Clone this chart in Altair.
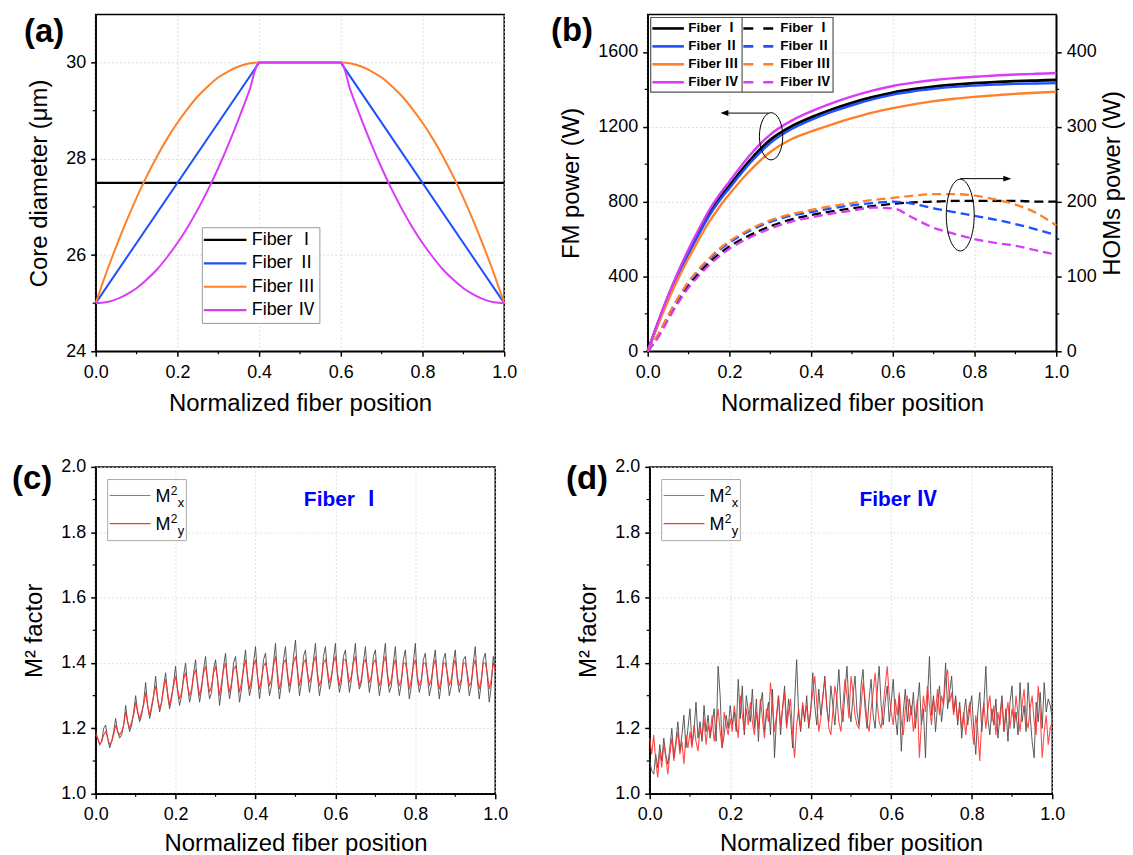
import altair as alt
import pandas as pd

FONT = "Liberation Sans, Noto Sans CJK SC, sans-serif"
BLACK, BLUE, ORANGE, MAGENTA = "#000000", "#1e50ff", "#ff8028", "#d93cf7"
FIBER_LABELS = ["Fiber Ⅰ", "Fiber Ⅱ", "Fiber Ⅲ", "Fiber Ⅳ"]
FIBER_COLORS = [BLACK, BLUE, ORANGE, MAGENTA]

X_TICKS = [0.0, 0.2, 0.4, 0.6, 0.8, 1.0]
X_MINOR = [0.1, 0.3, 0.5, 0.7, 0.9]

# ---------------- (a) core diameter profiles
A1_X = [0.0, 1.0]
A1_Y = [27.5, 27.5]
A2_X = [0.0, 0.4, 0.6, 1.0]
A2_Y = [25.0, 30.0, 30.0, 25.0]
A34_X = [0.0, 0.025, 0.05, 0.075, 0.1, 0.125, 0.15, 0.175, 0.2, 0.225, 0.25, 0.275,
         0.3, 0.325, 0.35, 0.375, 0.4, 0.6, 0.625, 0.65, 0.675, 0.7, 0.725, 0.75,
         0.775, 0.8, 0.825, 0.85, 0.875, 0.9, 0.925, 0.95, 0.975, 1.0]
A3_Y = [25.0, 25.61, 26.17, 26.70, 27.19, 27.64, 28.05, 28.42, 28.75, 29.04, 29.30, 29.51,
        29.69, 29.82, 29.92, 29.98, 30.0, 30.0, 29.98, 29.92, 29.82, 29.69, 29.51, 29.30,
        29.04, 28.75, 28.42, 28.05, 27.64, 27.19, 26.70, 26.17, 25.61, 25.0]
A4_Y = [25.0, 25.02, 25.08, 25.18, 25.31, 25.49, 25.70, 25.96, 26.25, 26.58, 26.95, 27.36,
        27.81, 28.30, 28.83, 29.39, 30.0, 30.0, 29.39, 28.83, 28.30, 27.81, 27.36, 26.95,
        26.58, 26.25, 25.96, 25.70, 25.49, 25.31, 25.18, 25.08, 25.02, 25.0]
A_YTICKS = [24, 26, 28, 30]
A_YMINOR = [25, 27, 29]

# ---------------- (b) FM and HOM power
B_X = [0.0, 0.025, 0.05, 0.075, 0.1, 0.125, 0.15, 0.175, 0.2, 0.25, 0.3, 0.35, 0.4,
       0.45, 0.5, 0.55, 0.6, 0.65, 0.7, 0.75, 0.8, 0.85, 0.9, 0.95, 1.0]
FM1 = [0, 150, 290, 415, 530, 635, 735, 815, 885, 1020, 1130, 1200, 1250,
       1292, 1328, 1358, 1383, 1401, 1415, 1425, 1433, 1439, 1444, 1447, 1450]
FM2 = [0, 148, 287, 410, 522, 625, 723, 803, 872, 1005, 1113, 1185, 1237,
       1280, 1315, 1346, 1372, 1390, 1403, 1413, 1420, 1425, 1429, 1431, 1433]
FM3 = [0, 140, 272, 390, 497, 597, 690, 770, 840, 965, 1065, 1132, 1175,
       1212, 1246, 1276, 1300, 1320, 1337, 1350, 1360, 1368, 1376, 1382, 1387]
FM4 = [0, 155, 298, 428, 545, 652, 752, 835, 908, 1048, 1158, 1230, 1282,
       1325, 1362, 1393, 1418, 1436, 1450, 1460, 1467, 1474, 1479, 1483, 1487]
HOM1 = [0, 20, 45, 68, 88, 104, 118, 130, 140, 155, 167, 176, 182,
        187, 191, 194, 197, 199, 200, 201, 201, 201, 201, 200, 200]
HOM2 = [0, 21, 47, 71, 92, 108, 122, 135, 145, 161, 173, 181, 186,
        191, 195, 198, 200, 197, 191, 186, 181, 176, 170, 163, 155]
HOM3 = [0, 22, 48, 72, 93, 110, 124, 137, 147, 163, 175, 183, 189,
        194, 198, 202, 205, 208, 210, 210, 208, 203, 196, 185, 168]
HOM4 = [0, 18, 42, 65, 85, 101, 115, 127, 137, 152, 164, 173, 179,
        184, 188, 192, 191, 178, 165, 157, 150, 145, 141, 135, 129]
B_LTICKS = [0, 400, 800, 1200, 1600]
B_LMINOR = [200, 600, 1000, 1400]
B_RTICKS = [0, 100, 200, 300, 400]
B_RMINOR = [50, 150, 250, 350]

# ---------------- (c), (d) M2 factors
M_X = [round(i * 0.005, 3) for i in range(201)]
C_MX = [
    1.19, 1.17, 1.15, 1.16, 1.20, 1.21, 1.17, 1.14, 1.16, 1.19,
    1.23, 1.19, 1.17, 1.18, 1.21, 1.27, 1.22, 1.19, 1.21, 1.25,
    1.30, 1.25, 1.22, 1.24, 1.28, 1.34, 1.27, 1.23, 1.26, 1.30,
    1.36, 1.29, 1.25, 1.28, 1.33, 1.37, 1.30, 1.26, 1.29, 1.34,
    1.39, 1.31, 1.27, 1.30, 1.36, 1.40, 1.33, 1.28, 1.31, 1.37,
    1.41, 1.33, 1.28, 1.32, 1.38, 1.42, 1.34, 1.29, 1.31, 1.38,
    1.41, 1.35, 1.27, 1.32, 1.39, 1.43, 1.34, 1.29, 1.33, 1.40,
    1.42, 1.35, 1.28, 1.32, 1.39, 1.44, 1.35, 1.30, 1.33, 1.40,
    1.45, 1.36, 1.29, 1.34, 1.41, 1.43, 1.36, 1.30, 1.33, 1.40,
    1.46, 1.35, 1.29, 1.34, 1.41, 1.45, 1.36, 1.31, 1.35, 1.42,
    1.47, 1.37, 1.30, 1.34, 1.42, 1.44, 1.37, 1.31, 1.35, 1.41,
    1.46, 1.36, 1.30, 1.34, 1.42, 1.45, 1.37, 1.32, 1.35, 1.41,
    1.46, 1.36, 1.31, 1.34, 1.42, 1.44, 1.37, 1.31, 1.35, 1.41,
    1.46, 1.36, 1.32, 1.34, 1.40, 1.45, 1.37, 1.31, 1.35, 1.42,
    1.44, 1.36, 1.30, 1.34, 1.41, 1.46, 1.36, 1.31, 1.33, 1.40,
    1.45, 1.35, 1.30, 1.34, 1.41, 1.44, 1.36, 1.29, 1.33, 1.40,
    1.46, 1.35, 1.31, 1.34, 1.41, 1.43, 1.36, 1.30, 1.33, 1.40,
    1.44, 1.35, 1.29, 1.34, 1.41, 1.43, 1.36, 1.30, 1.33, 1.40,
    1.44, 1.35, 1.31, 1.34, 1.41, 1.42, 1.36, 1.30, 1.33, 1.40,
    1.45, 1.35, 1.29, 1.34, 1.41, 1.43, 1.36, 1.28, 1.33, 1.42,
    1.38]
C_MY = [
    1.18, 1.17, 1.15, 1.16, 1.18, 1.19, 1.17, 1.15, 1.16, 1.18,
    1.21, 1.19, 1.18, 1.19, 1.21, 1.25, 1.22, 1.20, 1.22, 1.24,
    1.28, 1.25, 1.23, 1.25, 1.27, 1.31, 1.27, 1.24, 1.27, 1.30,
    1.33, 1.29, 1.26, 1.28, 1.32, 1.35, 1.31, 1.27, 1.30, 1.33,
    1.36, 1.32, 1.29, 1.31, 1.35, 1.37, 1.33, 1.30, 1.32, 1.36,
    1.38, 1.34, 1.30, 1.33, 1.37, 1.39, 1.35, 1.31, 1.33, 1.37,
    1.39, 1.35, 1.30, 1.34, 1.38, 1.40, 1.35, 1.31, 1.34, 1.38,
    1.39, 1.36, 1.31, 1.34, 1.38, 1.41, 1.36, 1.32, 1.35, 1.39,
    1.41, 1.36, 1.32, 1.35, 1.39, 1.40, 1.37, 1.33, 1.35, 1.39,
    1.42, 1.37, 1.32, 1.35, 1.40, 1.41, 1.37, 1.33, 1.36, 1.40,
    1.42, 1.38, 1.33, 1.36, 1.40, 1.41, 1.37, 1.34, 1.36, 1.40,
    1.42, 1.37, 1.33, 1.35, 1.40, 1.41, 1.38, 1.34, 1.36, 1.40,
    1.42, 1.37, 1.33, 1.36, 1.41, 1.41, 1.38, 1.34, 1.36, 1.40,
    1.42, 1.37, 1.33, 1.35, 1.40, 1.41, 1.38, 1.34, 1.36, 1.40,
    1.41, 1.37, 1.33, 1.35, 1.40, 1.42, 1.37, 1.33, 1.35, 1.39,
    1.41, 1.36, 1.33, 1.35, 1.40, 1.40, 1.37, 1.32, 1.35, 1.39,
    1.41, 1.36, 1.33, 1.35, 1.40, 1.40, 1.37, 1.33, 1.35, 1.39,
    1.41, 1.36, 1.32, 1.35, 1.40, 1.40, 1.37, 1.33, 1.35, 1.39,
    1.41, 1.36, 1.33, 1.35, 1.40, 1.40, 1.37, 1.33, 1.34, 1.39,
    1.41, 1.36, 1.32, 1.35, 1.40, 1.40, 1.37, 1.32, 1.35, 1.40,
    1.38]
D_MX = [
    1.10, 1.07, 1.06, 1.12, 1.08, 1.15, 1.10, 1.17, 1.12, 1.09,
    1.14, 1.20, 1.11, 1.16, 1.22, 1.13, 1.18, 1.24, 1.14, 1.20,
    1.26, 1.15, 1.19, 1.28, 1.17, 1.22, 1.16, 1.27, 1.19, 1.24,
    1.17, 1.21, 1.26, 1.16, 1.39, 1.30, 1.14, 1.18, 1.24, 1.20,
    1.27, 1.21, 1.25, 1.19, 1.35, 1.23, 1.33, 1.18, 1.30, 1.25,
    1.22, 1.32, 1.20, 1.29, 1.16, 1.27, 1.31, 1.19, 1.24, 1.28,
    1.18, 1.32, 1.11, 1.23, 1.30, 1.18, 1.26, 1.33, 1.21, 1.29,
    1.23, 1.14, 1.28, 1.41, 1.24, 1.19, 1.27, 1.22, 1.30, 1.20,
    1.25, 1.37, 1.27, 1.21, 1.32, 1.24, 1.29, 1.36, 1.26, 1.22,
    1.33, 1.27, 1.21, 1.30, 1.38, 1.26, 1.22, 1.31, 1.39, 1.27,
    1.22, 1.30, 1.36, 1.25, 1.21, 1.33, 1.38, 1.26, 1.20, 1.29,
    1.35, 1.24, 1.20, 1.31, 1.39, 1.27, 1.21, 1.28, 1.33, 1.22,
    1.28, 1.35, 1.24, 1.18, 1.30, 1.13, 1.25, 1.32, 1.22, 1.29,
    1.24, 1.31, 1.20, 1.27, 1.34, 1.21, 1.26, 1.11, 1.29, 1.42,
    1.24, 1.30, 1.19, 1.27, 1.33, 1.22, 1.28, 1.40, 1.26, 1.31,
    1.36, 1.25, 1.30, 1.21, 1.28, 1.17, 1.24, 1.29, 1.21, 1.26,
    1.30, 1.20, 1.12, 1.25, 1.31, 1.19, 1.27, 1.39, 1.23, 1.18,
    1.26, 1.21, 1.29, 1.17, 1.24, 1.30, 1.19, 1.26, 1.16, 1.28,
    1.33, 1.20, 1.25, 1.18, 1.34, 1.22, 1.27, 1.19, 1.34, 1.24,
    1.16, 1.11, 1.28, 1.22, 1.31, 1.20, 1.34, 1.25, 1.29, 1.27,
    1.23]
D_MY = [
    1.17, 1.12, 1.18, 1.10, 1.05, 1.13, 1.08, 1.15, 1.11, 1.06,
    1.12, 1.17, 1.10, 1.15, 1.19, 1.12, 1.16, 1.09, 1.18, 1.14,
    1.19, 1.14, 1.21, 1.16, 1.13, 1.20, 1.17, 1.23, 1.15, 1.21,
    1.18, 1.24, 1.16, 1.21, 1.26, 1.19, 1.14, 1.25, 1.21, 1.18,
    1.23, 1.19, 1.27, 1.22, 1.17, 1.30, 1.24, 1.19, 1.26, 1.21,
    1.28, 1.22, 1.18, 1.25, 1.20, 1.29, 1.23, 1.17, 1.26, 1.22,
    1.34, 1.27, 1.19, 1.24, 1.30, 1.21, 1.26, 1.31, 1.20, 1.25,
    1.29, 1.18, 1.11, 1.21, 1.26, 1.20, 1.28, 1.23, 1.27, 1.21,
    1.26, 1.31, 1.36, 1.28, 1.19, 1.23, 1.30, 1.35, 1.27, 1.20,
    1.18, 1.25, 1.33, 1.29, 1.22, 1.19, 1.27, 1.35, 1.30, 1.23,
    1.36, 1.31, 1.24, 1.21, 1.20, 1.27, 1.34, 1.29, 1.22, 1.19,
    1.26, 1.31, 1.37, 1.28, 1.22, 1.20, 1.27, 1.33, 1.39, 1.30,
    1.25, 1.21, 1.29, 1.24, 1.31, 1.22, 1.18, 1.26, 1.30, 1.22,
    1.27, 1.19, 1.24, 1.29, 1.11, 1.22, 1.30, 1.25, 1.33, 1.27,
    1.21, 1.29, 1.25, 1.32, 1.24, 1.30, 1.27, 1.35, 1.38, 1.28,
    1.31, 1.24, 1.29, 1.22, 1.27, 1.20, 1.25, 1.18, 1.24, 1.28,
    1.21, 1.15, 1.24, 1.19, 1.10, 1.23, 1.28, 1.20, 1.26, 1.30,
    1.22, 1.27, 1.18, 1.25, 1.21, 1.29, 1.19, 1.24, 1.28, 1.20,
    1.26, 1.22, 1.30, 1.24, 1.19, 1.27, 1.32, 1.23, 1.20, 1.26,
    1.30, 1.22, 1.18, 1.33, 1.25, 1.11, 1.19, 1.24, 1.15, 1.20,
    1.22]
M_YTICKS = [1.0, 1.2, 1.4, 1.6, 1.8, 2.0]
M_YMINOR = [1.1, 1.3, 1.5, 1.7, 1.9]

# ---------------- helpers
ONE = pd.DataFrame({"k": [0]})
XS = alt.Scale(domain=[0, 1], nice=False, zero=False)


def xaxis(title_y=40):
    return alt.Axis(values=X_TICKS, format=".1f", title="Normalized fiber position",
                    labelPadding=7, titleY=title_y, titleBaseline="top", grid=True)


def vtext(x, y, text, size, weight="normal", color="black", align="left", baseline="middle"):
    return alt.Chart(ONE).mark_text(text=text, font=FONT, fontSize=size, fontWeight=weight,
                                    color=color, align=align, baseline=baseline).encode(
        x=alt.value(x), y=alt.value(y))


def vrule(x1, y1, x2, y2, color="black", width=1.0, dash=None, opacity=1.0):
    kw = dict(color=color, strokeWidth=width, opacity=opacity)
    if dash:
        kw["strokeDash"] = dash
    return alt.Chart(ONE).mark_rule(**kw).encode(
        x=alt.value(x1), x2=alt.value(x2), y=alt.value(y1), y2=alt.value(y2))


def vbox(x1, y1, x2, y2, stroke, width=1.0):
    return alt.Chart(ONE).mark_rect(fill="white", stroke=stroke, strokeWidth=width).encode(
        x=alt.value(x1), x2=alt.value(x2), y=alt.value(y1), y2=alt.value(y2))


def anchors(left, right, top, bottom):
    out = [vrule(left, top, right, top, opacity=0)]
    if bottom is not None:
        out.append(vrule(left, top, left, bottom, opacity=0))
    return out


def xminor(h, xax):
    return alt.Chart(pd.DataFrame({"x": X_MINOR})).mark_rule(color="black", strokeWidth=1.2).encode(
        x=alt.X("x:Q", scale=XS, axis=xax), y=alt.value(h), y2=alt.value(h + 3))


def yminor(vals, ys, yax, xax, x0, x1):
    return alt.Chart(pd.DataFrame({"y": vals})).mark_rule(color="black", strokeWidth=1.2).encode(
        y=alt.Y("y:Q", scale=ys, axis=yax), x=alt.value(x0), x2=alt.value(x1))


def line(xs, ys, yscale, yaxis, xax, color, width, dash=None, interp="linear", opacity=1.0):
    kw = dict(color=color, strokeWidth=width, interpolate=interp, opacity=opacity)
    if dash:
        kw["strokeDash"] = dash
    return alt.Chart(pd.DataFrame({"x": xs, "y": ys})).mark_line(**kw).encode(
        x=alt.X("x:Q", scale=XS, axis=xax),
        y=alt.Y("y:Q", scale=yscale, axis=yaxis))


def point(x, y, yscale, yaxis, xax, **kw):
    return alt.Chart(pd.DataFrame({"x": [x], "y": [y]})).mark_point(**kw).encode(
        x=alt.X("x:Q", scale=XS, axis=xax), y=alt.Y("y:Q", scale=yscale, axis=yaxis))


def hrule(x1, x2, y, yscale, yaxis, xax):
    return alt.Chart(pd.DataFrame({"x": [x1], "x2": [x2], "y": [y]})).mark_rule(
        color="black", strokeWidth=1).encode(
        x=alt.X("x:Q", scale=XS, axis=xax), x2="x2:Q",
        y=alt.Y("y:Q", scale=yscale, axis=yaxis))


# ---------------- panel (a)
W_A, H_A = 410, 338
XAX_TOP = xaxis(40)
YS_A = alt.Scale(domain=[24, 31], nice=False, zero=False)
YAX_A = alt.Axis(values=A_YTICKS, format="d", title="Core diameter (μm)", titleX=-56,
                 titleBaseline="middle", grid=True)
a_layers = [
    line(A1_X, A1_Y, YS_A, YAX_A, XAX_TOP, BLACK, 2.2),
    line(A2_X, A2_Y, YS_A, YAX_A, XAX_TOP, BLUE, 2.0),
    line(A34_X, A3_Y, YS_A, YAX_A, XAX_TOP, ORANGE, 2.0, interp="monotone"),
    line(A34_X, A4_Y, YS_A, YAX_A, XAX_TOP, MAGENTA, 2.0, interp="monotone"),
    xminor(H_A, XAX_TOP),
    yminor(A_YMINOR, YS_A, YAX_A, XAX_TOP, -3, 0),
    vbox(107, 214, 225, 310, "#9a9a9a"),
]
for i, (lab, col) in enumerate(zip(FIBER_LABELS, FIBER_COLORS)):
    yy = 226.2 + 23.5 * i
    a_layers.append(vrule(108.5, yy, 151.3, yy, color=col, width=2.2))
    a_layers.append(vtext(156.6, yy, lab, 18))
a_layers.append(vtext(-72, 18, "(a)", 33, weight="bold"))
a_layers += anchors(-87, W_A + 20, -4, H_A + 70)
panel_a = alt.layer(*a_layers).properties(width=W_A, height=H_A)

# ---------------- panel (b)
W_B, H_B = 410, 338
YS_BL = alt.Scale(domain=[0, 1800], nice=False, zero=True)
YS_BR = alt.Scale(domain=[0, 450], nice=False, zero=True)
YAX_BL = alt.Axis(values=B_LTICKS, format="d", title="FM power (W)", titleX=-76,
                  titleBaseline="middle", grid=True)
YAX_BR = alt.Axis(values=B_RTICKS, format="d", title="HOMs power (W)", orient="right",
                  titleX=56, titleAngle=270, titleBaseline="middle", grid=False)
FMS = [FM1, FM2, FM3, FM4]
HOMS = [HOM1, HOM2, HOM3, HOM4]
ELLIPSE_1 = "M0,-1 A0.494,1 0 1,1 0,1 A0.494,1 0 1,1 0,-1 Z"
ELLIPSE_2 = "M0,-1 A0.389,1 0 1,1 0,1 A0.389,1 0 1,1 0,-1 Z"
HEAD_L = "M0,0 L2,-0.75 L2,0.75 Z"
HEAD_R = "M0,0 L-2,-0.75 L-2,0.75 Z"

left_layers = []
for k, (fm, col) in enumerate(zip(FMS, FIBER_COLORS)):
    left_layers.append(line(B_X, fm, YS_BL, YAX_BL, XAX_TOP, col, 2.8 if k == 0 else 2.4,
                            interp="monotone"))
left_layers.append(point(0.302, 1149, YS_BL, YAX_BL, XAX_TOP, shape=ELLIPSE_1, size=2247,
                         filled=False, stroke="black", strokeWidth=1, opacity=1))
left_layers.append(hrule(0.296, 0.186, 1273, YS_BL, YAX_BL, XAX_TOP))
left_layers.append(point(0.178, 1273, YS_BL, YAX_BL, XAX_TOP, shape=HEAD_L, size=64, filled=True,
                         color="black", opacity=1, strokeWidth=0))
left_layers.append(xminor(H_B, XAX_TOP))
left_layers.append(yminor(B_LMINOR, YS_BL, YAX_BL, XAX_TOP, -3, 0))
# legend (b)
left_layers.append(vbox(3, 3, 186, 78, "#555555", 1.2))
left_layers.append(vrule(94.7, 3, 94.7, 78, color="#555555", width=1.2))
for i, (lab, col) in enumerate(zip(FIBER_LABELS, FIBER_COLORS)):
    yy = 14 + 18 * i
    left_layers.append(vrule(4.7, yy, 36.3, yy, color=col, width=2.6))
    left_layers.append(vtext(40.7, yy, lab, 13.5, weight="bold"))
    left_layers.append(vrule(96, yy, 126, yy, color=col, width=2.6, dash=[10, 10]))
    left_layers.append(vtext(133, yy, lab, 13.5, weight="bold"))
left_layers.append(vtext(-97, 16.5, "(b)", 33, weight="bold"))
left_layers += anchors(-100, W_B, -4, H_B + 70)

right_layers = []
for k, (hom, col) in enumerate(zip(HOMS, FIBER_COLORS)):
    right_layers.append(line(B_X, hom, YS_BR, YAX_BR, XAX_TOP, col, 2.3, dash=[9, 5],
                             interp="monotone"))
right_layers.append(point(0.765, 182, YS_BR, YAX_BR, XAX_TOP, shape=ELLIPSE_2, size=5184,
                          filled=False, stroke="black", strokeWidth=1, opacity=1))
right_layers.append(hrule(0.765, 0.882, 230.7, YS_BR, YAX_BR, XAX_TOP))
right_layers.append(point(0.89, 230.7, YS_BR, YAX_BR, XAX_TOP, shape=HEAD_R, size=64, filled=True,
                          color="black", opacity=1, strokeWidth=0))
right_layers.append(yminor(B_RMINOR, YS_BR, YAX_BR, XAX_TOP, W_B, W_B + 3))

panel_b = alt.layer(alt.layer(*left_layers), alt.layer(*right_layers)).resolve_scale(
    y="independent").properties(width=W_B, height=H_B)


# ---------------- panels (c), (d)
def m2_panel(mx, my, fiber_label, tag, w, h, red_opacity):
    xax = xaxis(38)
    ys = alt.Scale(domain=[1.0, 2.0], nice=False, zero=False)
    yax = alt.Axis(values=M_YTICKS, format=".1f", title="M² factor", titleX=-61,
                   titleBaseline="middle", grid=True)
    layers = [
        line(M_X, mx, ys, yax, xax, "#4a4a4a", 0.9),
        line(M_X, my, ys, yax, xax, "#ff2a2a", 1.1, opacity=red_opacity),
        xminor(h, xax),
        yminor(M_YMINOR, ys, yax, xax, -3, 0),
        alt.Chart(pd.DataFrame({"x": [0.521], "y": [1.898]})).mark_text(
            text=fiber_label, font=FONT, fontSize=21, fontWeight="bold", color="#0000ff",
            align="left", baseline="middle").encode(
            x=alt.X("x:Q", scale=XS, axis=xax), y=alt.Y("y:Q", scale=ys, axis=yax)),
        vbox(12, 12.7, 91, 74, "#aaaaaa"),
    ]
    for i, (col, sub) in enumerate([("#808080", "x"), ("#ff3030", "y")]):
        dy = 28.3 * i
        layers.append(vrule(14, 28.7 + dy, 55, 28.7 + dy, color=col, width=1.2))
        layers.append(vtext(60, 35.3 + dy, "M", 18, baseline="alphabetic"))
        layers.append(vtext(75.3, 28.3 + dy, "2", 12, baseline="alphabetic"))
        layers.append(vtext(82.3, 40.0 + dy, sub, 13, baseline="alphabetic"))
    layers.append(vtext(-84, 12, tag, 33, weight="bold"))
    return layers


W_C, H_C = 401, 328
W_D, H_D = 404, 328
c_layers = m2_panel(C_MX, C_MY, "Fiber Ⅰ", "(c)", W_C, H_C, 0.9)
c_layers += anchors(-85, W_C + 20, -10, None)
panel_c = alt.layer(*c_layers).properties(width=W_C, height=H_C)

d_layers = m2_panel(D_MX, D_MY, "Fiber Ⅳ", "(d)", W_D, H_D, 0.85)
d_layers += anchors(-100, W_D, -10, None)
panel_d = alt.layer(*d_layers).properties(width=W_D, height=H_D)

row1 = alt.hconcat(panel_a, panel_b, spacing=22)
row2 = alt.hconcat(panel_c, panel_d, spacing=33)

chart = alt.vconcat(row1, row2, spacing=34).properties(
    padding=0, background="white"
).configure_view(
    stroke="black", strokeWidth=1.5
).configure_axis(
    labelFont=FONT, titleFont=FONT, labelFontSize=18, titleFontSize=24,
    titleFontWeight="normal", labelColor="black", titleColor="black",
    domainColor="black", domainWidth=1.5, tickColor="black", tickWidth=1.5,
    tickSize=5, labelPadding=5, labelFlush=False, labelOverlap=False,
    gridColor="#d6d6d6", gridDash=[2, 2], gridWidth=0.8
)

chart.save("out.html", embed_options={"renderer": "svg", "actions": False})
